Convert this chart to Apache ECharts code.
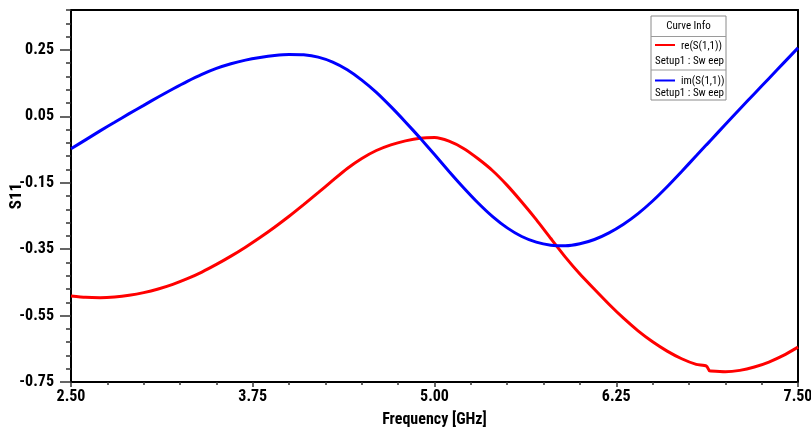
<!DOCTYPE html>
<html>
<head>
<meta charset="utf-8">
<script src="https://cdn.jsdelivr.net/npm/echarts@6/dist/echarts.min.js"></script>
<style>
  html, body { margin: 0; padding: 0; background: #fff; }
  #chart { width: 811px; height: 433px; }
</style>
</head>
<body>
<div id="chart"></div>
<script>
// Frequency sweep (GHz)
const freq = [
  2.5, 2.6, 2.7, 2.8, 2.9, 3.0, 3.1, 3.2, 3.3, 3.4,
  3.5, 3.6, 3.7, 3.8, 3.9, 4.0, 4.1, 4.2, 4.3, 4.4,
  4.5, 4.6, 4.7, 4.8, 4.9, 5.0, 5.1, 5.2, 5.3, 5.4,
  5.5, 5.6, 5.7, 5.8, 5.9, 6.0, 6.1, 6.2, 6.3, 6.4,
  6.5, 6.6, 6.7, 6.8, 6.87, 6.89, 6.9, 7.0, 7.1, 7.2,
  7.3, 7.4, 7.5
];

// re(S(1,1))
const reS11 = [
  -0.491, -0.495, -0.496, -0.494, -0.489, -0.481, -0.470, -0.456, -0.439, -0.419,
  -0.396, -0.371, -0.344, -0.315, -0.284, -0.251, -0.216, -0.180, -0.143, -0.107,
  -0.077, -0.053, -0.036, -0.024, -0.016, -0.014, -0.025, -0.047, -0.078, -0.114,
  -0.158, -0.208, -0.261, -0.318, -0.374, -0.425, -0.471, -0.516, -0.558, -0.596,
  -0.629, -0.657, -0.680, -0.697, -0.702, -0.716, -0.717, -0.719, -0.715, -0.705,
  -0.690, -0.670, -0.645
];

// im(S(1,1))
const imS11 = [
  -0.048, -0.021, 0.006, 0.032, 0.058, 0.083, 0.108, 0.132, 0.155, 0.176,
  0.194, 0.208, 0.219, 0.227, 0.233, 0.236, 0.235, 0.228, 0.213, 0.190,
  0.159, 0.122, 0.079, 0.033, -0.015, -0.065, -0.116, -0.165, -0.211, -0.252,
  -0.286, -0.312, -0.329, -0.338, -0.340, -0.334, -0.321, -0.301, -0.275, -0.243,
  -0.205, -0.162, -0.116, -0.069, -0.036, -0.027, -0.022, 0.025, 0.072, 0.118,
  0.164, 0.210, 0.256
];

// Axis ticks
const yMajorTicks = [-0.75, -0.55, -0.35, -0.15, 0.05, 0.25];
const yMin = -0.75, yMax = 0.37, yMinorStep = 0.04;
const xMin = 2.5, xMax = 7.5, xStep = 1.25;

const seriesNames = ['re(S(1,1))', 'im(S(1,1))'];
const seriesColors = ['#ff0000', '#0000ff'];
const sweepName = 'Setup1 : Sw eep';

// minor tick positions on the value axis
const yMinorTicks = [];
for (let i = 0; i <= Math.round((yMax - yMin) / yMinorStep); i++) {
  yMinorTicks.push(+(yMin + i * yMinorStep).toFixed(4));
}

const font = '"Liberation Sans Narrow", "Arial Narrow", "Roboto Condensed", Roboto, sans-serif';
const axisColor = '#000';

const chart = echarts.init(document.getElementById('chart'), null, { renderer: 'canvas' });

const pairs = (ys) => freq.map((f, i) => [f, ys[i]]);

// legend panel
const lx = 651, ly = 16, lw = 75, lh = 84;
const legendGraphics = [
  { type: 'rect', shape: { x: lx, y: ly, width: lw, height: lh },
    style: { fill: '#fff', stroke: '#8a8a8a', lineWidth: 1 }, z: 10 },
  { type: 'line', shape: { x1: lx, y1: 36.5, x2: lx + lw, y2: 36.5 },
    style: { stroke: '#9a9a9a', lineWidth: 1 }, z: 11 },
  { type: 'line', shape: { x1: lx, y1: 70, x2: lx + lw, y2: 70 },
    style: { stroke: '#9a9a9a', lineWidth: 1 }, z: 11 },
  { type: 'text', x: lx + lw / 2, y: 26.5,
    style: { text: 'Curve Info', font: '11px ' + font, fill: '#000', align: 'center', verticalAlign: 'middle' }, z: 11 }
];
[[46, 61.5], [81.5, 93]].forEach(([yTop, yBot], i) => {
  legendGraphics.push(
    { type: 'line', shape: { x1: 655, y1: yTop - 1, x2: 675, y2: yTop - 1 },
      style: { stroke: seriesColors[i], lineWidth: 2 }, z: 11 },
    { type: 'text', x: 681, y: yTop,
      style: { text: seriesNames[i], font: '11px ' + font, fill: '#000', align: 'left', verticalAlign: 'middle' }, z: 11 },
    { type: 'text', x: 655, y: yBot,
      style: { text: sweepName, font: '11px ' + font, fill: '#000', align: 'left', verticalAlign: 'middle' }, z: 11 }
  );
});

const option = {
  backgroundColor: '#fff',
  animation: false,
  grid: { left: 71, right: 13, top: 10, bottom: 51, containLabel: false, outerBoundsMode: 'none' },
  xAxis: [
    {
      type: 'value', min: xMin, max: xMax, interval: xStep,
      name: 'Frequency [GHz]', nameLocation: 'middle', nameGap: 30, nameMoveOverlap: false,
      nameTextStyle: { fontFamily: font, fontSize: 16, fontWeight: 'bold', color: '#000' },
      axisLine: { show: true, onZero: false, lineStyle: { color: axisColor, width: 2 } },
      axisTick: { show: true, length: 5, lineStyle: { color: '#333', width: 1.5 } },
      minorTick: { show: true, splitNumber: 5, length: 3, lineStyle: { color: '#333', width: 1.5 } },
      axisLabel: { margin: 7, fontFamily: font, fontSize: 16, fontWeight: 'bold', color: '#000',
        formatter: (v) => v.toFixed(2) },
      splitLine: { show: false }
    },
    {
      // upper frame edge
      type: 'value', position: 'top', min: xMin, max: xMax, interval: xStep,
      axisLine: { show: true, onZero: false, lineStyle: { color: axisColor, width: 2 } },
      axisTick: { show: false }, axisLabel: { show: false }, splitLine: { show: false }
    }
  ],
  yAxis: [
    {
      type: 'value', min: yMin, max: yMax, position: 'left',
      name: 'S11', nameLocation: 'middle', nameGap: 46, nameRotate: 90, nameMoveOverlap: false,
      nameTextStyle: { fontFamily: font, fontSize: 17, fontWeight: 'bold', color: '#000' },
      axisLine: { show: true, onZero: false, lineStyle: { color: axisColor, width: 2 } },
      axisTick: { show: true, length: 11, customValues: yMajorTicks, lineStyle: { color: '#333', width: 1.5 } },
      axisLabel: { margin: 17, customValues: yMajorTicks, fontFamily: font, fontSize: 16, fontWeight: 'bold', color: '#000',
        formatter: (v) => v.toFixed(2) },
      splitLine: { show: false }
    },
    {
      // minor ticks
      type: 'value', min: yMin, max: yMax, position: 'left',
      axisLine: { show: false },
      axisTick: { show: true, length: 5, customValues: yMinorTicks, lineStyle: { color: '#333', width: 1.5 } },
      axisLabel: { show: false }, splitLine: { show: false }
    },
    {
      // right frame edge
      type: 'value', min: yMin, max: yMax, position: 'right',
      axisLine: { show: true, onZero: false, lineStyle: { color: axisColor, width: 2 } },
      axisTick: { show: false }, axisLabel: { show: false }, splitLine: { show: false }
    }
  ],
  series: [
    {
      name: seriesNames[0], type: 'line', xAxisIndex: 0, yAxisIndex: 0,
      data: pairs(reS11), showSymbol: false, smooth: 0.2,
      lineStyle: { color: seriesColors[0], width: 3 }, z: 3
    },
    {
      name: seriesNames[1], type: 'line', xAxisIndex: 0, yAxisIndex: 0,
      data: pairs(imS11), showSymbol: false, smooth: 0.2,
      lineStyle: { color: seriesColors[1], width: 3 }, z: 3
    }
  ],
  graphic: legendGraphics
};

chart.setOption(option);
</script>
</body>
</html>
